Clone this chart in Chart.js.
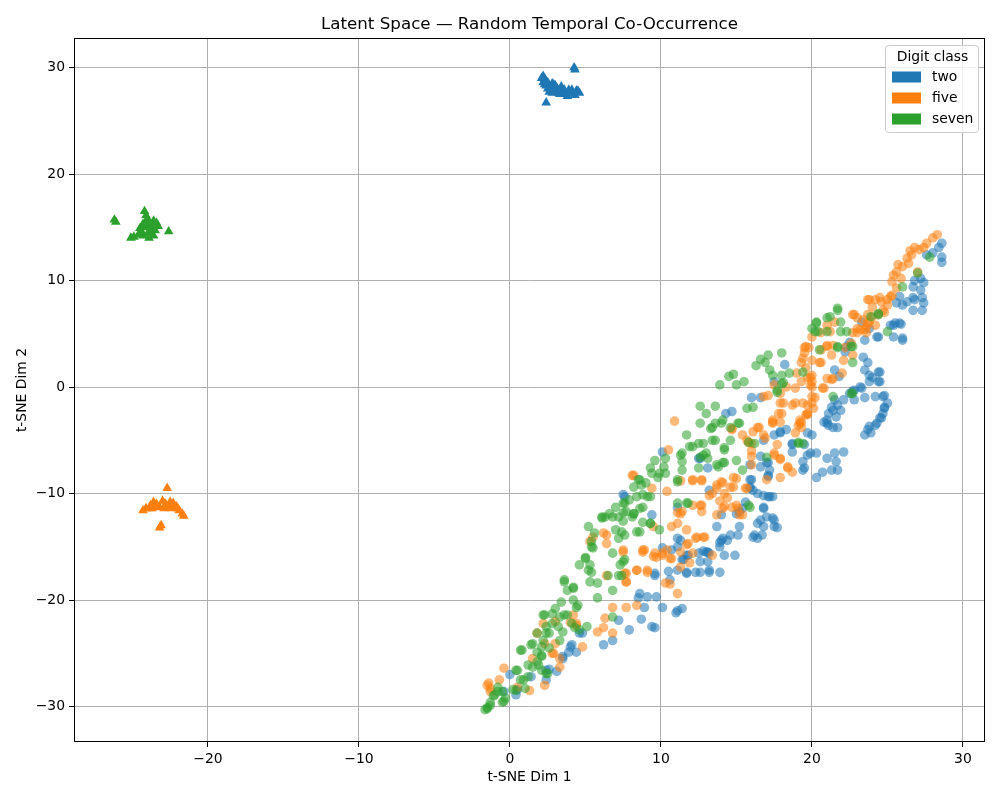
<!DOCTYPE html>
<html>
<head>
<meta charset="utf-8">
<script src="https://cdn.jsdelivr.net/npm/chart.js@4.4.1/dist/chart.umd.min.js"></script>
<style>
  body { margin: 0; background: #fff; }
  canvas { display: block; }
</style>
</head>
<body>
<canvas id="latentChart" width="1000" height="800"></canvas>
<script>
// class names and colours (matplotlib tab10)
const classNames = ["two", "five", "seven"];
const classColors = ["31, 119, 180", "255, 127, 14", "44, 160, 44"];

const xTicks = [-20, -10, 0, 10, 20, 30];
const yTicks = [-30, -20, -10, 0, 10, 20, 30];

// circles: temporal co-occurrence embedding
const twoLatent = [
  [0.0,-27.0],[0.4,-28.9],[0.5,-28.4],[-0.4,-28.6],[1.4,-27.2],[2.4,-27.5],[2.4,-26.6],[2.6,-26.5],[3.1,-26.7],[3.5,-25.3],
  [3.5,-25.5],[3.9,-24.9],[4.0,-24.4],[4.1,-24.2],[4.4,-24.9],[4.6,-23.1],[4.8,-23.1],[6.2,-24.2],[6.8,-23.8],[7.2,-21.9],
  [7.9,-22.8],[8.6,-19.4],[9.1,-19.7],[9.4,-22.5],[9.6,-22.6],[8.7,-21.8],[8.5,-19.8],[9.6,-17.7],[10.1,-15.1],[9.7,-19.7],
  [10.1,-20.7],[8.9,-20.7],[11.1,-21.0],[11.4,-20.8],[11.0,-21.2],[10.5,-17.3],[10.6,-18.1],[11.1,-17.2],[11.5,-16.2],[11.3,-14.4],
  [11.1,-15.0],[7.5,-10.1],[9.4,-12.0],[11.1,-11.3],[10.1,-6.1],[12.5,-6.7],[12.6,-6.7],[13.1,-7.6],[14.7,-2.3],[14.3,-2.5],
  [16.0,-1.0],[16.6,-1.0],[16.8,-5.0],[17.5,-4.5],[17.9,-4.3],[18.3,-4.0],[18.7,-5.4],[18.7,-6.1],[19.5,-5.4],[19.7,-6.4],
  [19.5,-7.6],[20.3,-8.5],[16.6,-6.5],[17.0,-7.1],[17.1,-7.1],[17.2,-7.8],[17.1,-8.4],[17.1,-8.3],[15.9,-8.7],[16.0,-8.7],
  [15.9,-7.3],[16.6,-7.5],[15.9,-9.5],[16.1,-9.7],[16.4,-10.0],[17.2,-10.3],[17.4,-10.3],[15.6,-10.8],[15.4,-11.4],[15.0,-11.9],
  [16.8,-11.3],[17.0,-12.2],[16.6,-12.5],[17.4,-12.3],[16.4,-12.8],[16.8,-13.1],[17.5,-13.1],[16.2,-13.9],[15.2,-13.1],[15.1,-13.9],
  [14.4,-14.4],[14.0,-14.4],[13.9,-14.6],[13.7,-13.1],[14.9,-15.8],[14.2,-15.8],[13.2,-15.6],[13.0,-15.5],[12.5,-15.6],[13.1,-16.4],
  [12.6,-16.4],[11.8,-15.8],[11.7,-15.8],[11.7,-17.4],[11.7,-17.5],[12.3,-17.4],[12.6,-17.4],[13.2,-17.4],[13.9,-17.4],[11.1,-14.2],
  [10.7,-15.3],[7.6,-10.3],[9.6,-17.5],[15.2,-11.7],[11.4,-16.2],[12.8,-15.4],[14.0,-12.0],[13.2,-9.7],[21.0,-3.4],[21.4,-3.8],
  [20.0,-4.5],[19.7,-4.3],[19.9,-6.2],[20.3,-6.2],[21.0,-6.7],[21.5,-6.2],[22.1,-6.1],[21.6,-7.0],[21.3,-7.8],[20.7,-8.0],
  [21.7,-7.8],[19.4,-7.0],[19.4,-7.8],[18.7,-5.3],[17.9,-4.2],[16.8,-10.2],[17.1,-10.3],[16.8,-11.4],[17.5,-12.5],[17.7,-13.2],
  [16.7,-13.9],[16.1,-14.1],[16.4,-14.2],[15.9,-9.4],[14.1,-14.2],[13.9,-15.0],[14.6,-13.9],[13.1,-15.5],[13.2,-17.2],[28.6,13.5],
  [28.4,13.1],[28.6,11.7],[28.6,12.2],[28.0,12.6],[27.6,12.4],[27.2,10.2],[26.8,10.0],[27.4,9.8],[26.7,9.4],[27.2,9.1],
  [26.7,8.4],[27.3,8.4],[27.4,7.9],[27.3,7.2],[25.8,8.5],[25.6,7.9],[26.0,7.7],[26.3,8.0],[26.8,8.2],[26.7,7.2],
  [25.5,6.0],[25.8,6.0],[25.9,5.9],[25.4,5.8],[25.2,5.8],[25.4,4.7],[26.0,4.6],[26.0,4.4],[24.3,4.7],[24.4,4.7],
  [23.5,4.4],[23.8,5.5],[23.3,6.1],[22.5,4.2],[22.3,3.8],[22.2,3.3],[21.5,1.6],[21.8,1.0],[23.4,2.8],[23.7,2.3],
  [23.5,1.6],[23.8,1.1],[24.0,0.9],[24.4,1.4],[24.5,1.4],[24.5,0.5],[24.4,0.5],[23.8,0.5],[23.2,0.0],[23.3,-0.1],
  [22.8,-0.3],[22.7,-0.4],[22.5,-0.6],[23.5,-1.0],[24.2,-0.9],[24.7,-0.9],[24.8,-0.8],[25.0,-1.5],[24.8,-1.9],[24.8,-2.0],
  [24.7,-2.5],[24.6,-2.9],[24.5,-2.9],[24.3,-3.4],[24.2,-3.6],[23.8,-3.7],[23.9,-4.3],[23.7,-4.0],[23.5,-4.5],[22.8,-1.2],
  [22.1,-1.2],[21.7,-1.7],[21.5,-1.2],[21.3,-1.9],[21.4,-2.2],[21.9,-2.2],[21.6,-2.8],[21.1,-2.5],[21.0,-3.1],[20.8,-3.3],
  [21.1,-3.6],[21.7,-3.8],[18.2,2.1],[17.5,0.5]
];
const fiveLatent = [
  [-1.4,-27.8],[-1.5,-28.0],[-1.3,-28.3],[-1.3,-28.6],[-0.4,-26.4],[-0.7,-27.5],[0.5,-28.2],[1.3,-28.5],[1.8,-23.1],[2.2,-22.2],
  [2.3,-24.1],[2.8,-25.0],[2.9,-25.0],[3.0,-24.1],[3.3,-25.5],[3.3,-26.3],[2.3,-28.0],[1.5,-25.5],[3.0,-22.0],[4.0,-22.1],
  [4.4,-22.4],[4.2,-21.4],[4.4,-22.2],[4.8,-24.4],[5.8,-23.0],[6.2,-22.6],[6.8,-23.1],[6.3,-21.7],[6.8,-20.7],[7.7,-20.7],
  [8.4,-20.5],[5.5,-14.1],[5.3,-14.5],[6.2,-13.7],[6.4,-14.7],[7.5,-15.5],[7.5,-15.3],[6.4,-17.7],[7.7,-18.3],[7.7,-17.5],
  [8.4,-17.2],[9.1,-17.2],[8.8,-15.5],[8.9,-15.3],[9.6,-15.6],[9.7,-16.0],[10.3,-18.4],[10.6,-18.5],[11.1,-19.4],[10.9,-3.2],
  [10.5,-5.9],[8.1,-8.3],[8.2,-8.3],[9.4,-9.5],[10.4,-9.8],[11.3,-8.8],[12.1,-8.8],[12.1,-8.7],[12.7,-8.7],[12.7,-8.8],
  [13.2,-10.2],[13.4,-10.0],[13.7,-9.5],[13.7,-9.2],[14.0,-8.9],[14.1,-9.0],[14.6,-9.4],[14.8,-9.4],[14.8,-8.5],[15.0,-8.6],
  [15.6,-9.5],[15.7,-9.5],[14.2,-10.0],[14.4,-10.4],[13.9,-10.7],[12.7,-11.1],[12.6,-11.1],[12.1,-11.1],[12.7,-11.7],[13.7,-12.0],
  [14.2,-11.2],[14.7,-11.3],[14.1,-11.4],[15.0,-11.1],[15.1,-11.4],[15.2,-12.0],[15.4,-12.0],[11.3,-11.9],[11.4,-11.7],[11.1,-11.8],
  [11.1,-12.8],[10.7,-13.1],[9.5,-13.1],[11.7,-13.4],[12.3,-14.2],[12.8,-14.1],[11.7,-14.8],[13.4,-15.8],[11.9,-16.5],[6.4,-13.9],
  [8.8,-15.3],[9.5,-15.9],[10.1,-15.8],[10.1,-15.6],[10.4,-15.3],[10.6,-16.1],[10.7,-16.1],[11.3,-15.5],[11.8,-14.7],[12.4,-14.1],
  [12.9,-14.1],[12.1,-15.6],[11.3,-16.9],[7.6,-17.5],[9.1,-17.4],[8.4,-17.2],[7.7,-18.3],[16.8,-0.9],[17.1,-0.8],[17.9,-1.5],
  [18.7,-1.7],[19.7,-1.7],[19.2,-3.4],[19.3,-3.3],[19.7,-2.5],[19.7,-2.6],[17.4,-3.3],[17.4,-3.4],[18.0,-2.5],[16.1,-4.2],
  [16.4,-3.8],[16.8,-4.5],[18.9,-4.3],[19.1,-3.6],[15.8,-5.2],[15.7,-5.0],[16.0,-5.3],[16.9,-4.8],[17.7,-5.4],[17.5,-6.2],
  [17.5,-6.4],[17.9,-6.7],[17.9,-6.8],[18.4,-7.6],[18.4,-7.5],[18.7,-8.0],[17.9,-8.5],[17.0,-8.7],[16.0,-6.5],[16.0,-6.0],
  [16.0,-7.3],[14.7,-3.9],[14.7,-4.0],[15.4,-4.5],[16.5,-3.8],[20.0,0.5],[28.3,14.3],[28.0,14.0],[27.6,13.5],[27.4,13.1],
  [27.1,12.9],[26.8,13.1],[26.5,12.8],[26.6,12.4],[26.3,12.1],[26.4,11.6],[26.0,11.3],[25.7,11.5],[25.6,10.8],[25.4,10.5],
  [25.9,10.2],[25.3,9.9],[27.0,10.8],[25.6,9.3],[25.3,8.6],[25.2,8.5],[25.0,8.2],[25.0,7.7],[24.6,8.0],[24.5,8.4],
  [24.2,8.2],[23.8,8.2],[23.7,8.2],[24.0,7.5],[24.7,7.2],[24.8,7.0],[24.4,6.8],[24.0,6.6],[23.7,6.8],[23.8,6.1],
  [23.7,6.0],[24.2,5.8],[23.6,5.6],[23.5,5.4],[23.4,6.3],[23.0,6.5],[23.0,5.5],[23.2,5.4],[23.6,5.1],[23.0,5.1],
  [22.7,5.1],[22.8,6.8],[22.7,6.8],[21.5,6.1],[21.0,5.8],[21.2,5.2],[20.6,5.1],[20.0,4.7],[19.8,3.7],[19.6,3.8],
  [19.5,3.7],[19.5,3.2],[20.6,3.5],[21.0,3.8],[21.0,3.9],[21.4,3.9],[21.3,3.0],[22.2,3.7],[22.6,4.1],[22.7,3.0],
  [22.1,2.5],[22.0,1.3],[21.4,0.8],[20.6,2.3],[20.5,2.3],[20.0,2.5],[19.4,2.7],[19.3,2.3],[19.6,1.8],[19.0,1.3],
  [20.0,1.1],[19.9,0.9],[19.7,0.9],[21.0,0.8],[21.3,0.7],[20.8,-0.1],[20.7,-0.1],[20.0,0.0],[19.9,0.2],[19.3,0.5],
  [18.9,-0.1],[18.3,0.0],[17.5,0.2],[17.9,-0.6],[18.1,-1.5],[18.9,-1.5],[19.4,-1.5],[20.0,-0.9],[20.0,-1.5],[20.2,-1.0],
  [20.1,-2.0],[19.6,-2.6],[19.2,-3.1],[19.3,-3.8],[17.4,-3.1],[17.9,-3.3],[17.8,-2.5]
];
const sevenLatent = [
  [-1.65,-30.3],[-1.5,-30.2],[-1.5,-30.1],[-1.3,-29.9],[-1.3,-29.6],[-1.1,-29.0],[-1.0,-28.9],[-0.8,-28.6],[-0.8,-28.2],[-0.5,-28.6],
  [-0.3,-29.2],[-0.5,-29.6],[-0.4,-29.5],[0.2,-28.4],[0.4,-28.5],[1.0,-28.3],[0.5,-26.6],[0.4,-26.6],[0.7,-27.5],[0.9,-27.5],
  [1.2,-27.2],[1.2,-26.1],[1.5,-26.3],[1.8,-25.8],[0.7,-24.7],[0.8,-24.7],[1.4,-24.2],[1.5,-24.1],[2.1,-25.2],[2.1,-25.3],
  [1.9,-26.1],[2.1,-26.6],[2.4,-26.9],[2.5,-26.9],[1.8,-24.9],[2.6,-24.5],[2.1,-24.4],[2.2,-23.8],[2.4,-23.1],[1.8,-23.1],
  [2.6,-23.1],[3.3,-23.8],[2.4,-22.5],[2.8,-22.2],[3.2,-22.5],[3.5,-23.0],[3.3,-21.6],[3.8,-21.4],[2.8,-21.3],[2.2,-21.4],
  [2.3,-21.4],[3.0,-20.8],[3.4,-20.2],[3.6,-21.4],[4.1,-22.2],[4.2,-20.0],[4.4,-20.7],[4.5,-20.5],[4.6,-22.8],[3.8,-19.1],
  [3.6,-18.3],[3.6,-18.1],[4.2,-18.8],[4.2,-18.9],[4.6,-16.7],[5.0,-16.1],[5.0,-16.0],[5.2,-17.2],[5.3,-16.7],[5.4,-17.4],
  [5.3,-18.3],[5.8,-18.4],[5.4,-15.0],[5.5,-15.1],[5.4,-14.5],[5.2,-13.1],[5.6,-13.7],[6.1,-12.2],[6.1,-12.3],[6.6,-11.9],
  [6.8,-12.2],[7.2,-12.2],[7.5,-11.8],[7.5,-10.9],[7.9,-10.6],[8.4,-10.3],[8.8,-10.1],[9.1,-10.3],[8.7,-9.2],[8.5,-8.7],
  [9.4,-8.1],[9.9,-8.1],[10.3,-8.1],[7.7,-11.7],[8.2,-11.9],[8.6,-11.4],[7.5,-12.6],[8.8,-12.7],[8.6,-13.6],[7.0,-13.4],
  [7.6,-13.9],[7.2,-14.2],[9.3,-12.8],[9.9,-13.4],[8.1,-12.2],[8.8,-11.3],[7.4,-13.6],[8.4,-13.6],[6.8,-15.6],[7.2,-17.7],
  [7.3,-16.7],[7.4,-17.7],[6.5,-17.7],[7.5,-16.4],[5.8,-19.8],[6.8,-19.1],[6.8,-21.6],[5.1,-22.5],[4.3,-22.6],[9.3,-12.8],
  [6.3,-12.2],[7.0,-11.3],[7.6,-10.9],[8.2,-11.9],[9.3,-10.3],[8.6,-8.7],[8.2,-9.4],[9.0,-9.0],[9.8,-8.5],[10.2,-7.5],
  [9.3,-7.6],[9.6,-6.9],[10.3,-6.7],[11.1,-8.9],[11.7,-10.9],[11.4,-7.8],[11.4,-7.0],[11.3,-6.4],[11.4,-6.2],[11.9,-5.6],
  [12.1,-5.6],[12.5,-5.3],[12.8,-5.3],[12.8,-6.4],[12.6,-6.6],[13.0,-6.2],[12.5,-7.6],[13.1,-6.7],[13.7,-7.3],[13.8,-7.5],
  [14.1,-7.1],[14.2,-7.1],[14.2,-5.9],[15.0,-6.9],[15.4,-7.8],[11.7,-4.5],[12.6,-3.4],[13.4,-3.8],[14.0,-3.4],[15.1,-3.4],
  [13.4,-5.0],[14.6,-5.0],[15.8,-5.2],[13.0,-2.5],[12.6,-1.8],[13.6,-1.8],[13.6,-3.4],[13.3,-3.9],[13.6,-5.0],[14.2,-5.7],
  [14.1,-3.1],[14.6,-3.8],[15.2,-3.4],[15.7,-2.0],[16.1,-1.9],[16.2,-5.3],[17.0,-6.6],[15.9,-11.3],[15.8,-11.1],[15.0,0.2],
  [13.9,0.2],[14.5,1.0],[14.8,1.2],[15.5,0.5],[16.3,2.0],[16.6,2.6],[17.7,-0.3],[18.1,0.4],[19.1,-5.2],[19.1,-5.3],
  [19.4,-5.3],[11.1,-10.9],[11.8,-10.9],[11.1,-8.7],[7.6,-16.2],[16.9,2.3],[17.1,3.0],[18.0,3.2],[17.2,1.6],[17.4,1.1],
  [18.0,1.1],[18.5,1.3],[18.0,0.3],[17.7,-0.5],[19.4,1.4],[20.0,5.5],[20.3,6.0],[20.3,6.1],[20.2,5.2],[21.0,6.5],
  [21.2,6.6],[21.7,7.2],[21.7,7.4],[20.4,5.2],[21.0,5.2],[21.9,5.2],[21.9,6.1],[22.3,5.2],[20.5,3.5],[21.7,3.7],
  [21.7,3.8],[22.6,3.8],[22.7,3.8],[22.7,2.3],[22.7,-0.6],[22.6,-0.6],[21.4,-0.9],[23.9,6.6],[24.4,6.8],[24.4,6.9],
  [25.0,5.2],[26.0,9.4],[27.0,10.7],[27.8,12.2]
];

// triangles: the three isolated anchor clusters
const twoAnchor = [
  [2.1,29.0],[2.2,29.2],[2.3,28.9],[2.35,28.8],[2.2,28.6],[2.3,28.4],[2.4,28.3],[2.5,28.6],[2.5,28.0],[2.6,28.1],
  [2.6,27.7],[2.7,27.9],[2.8,28.5],[2.8,27.6],[2.9,27.9],[2.9,28.4],[3.0,27.8],[3.0,28.3],[3.1,28.1],[3.2,27.6],
  [3.3,27.5],[3.3,27.9],[3.4,28.2],[3.5,27.7],[3.6,27.9],[3.7,27.5],[3.8,27.3],[3.9,27.9],[4.0,27.6],[4.1,27.9],
  [4.2,27.6],[4.3,27.4],[4.4,27.8],[4.5,27.8],[4.6,27.6],[4.25,30.0],[4.3,29.8],[2.4,26.7]
];
const fiveAnchor = [
  [-22.7,-9.5],[-24.3,-11.6],[-24.1,-11.4],[-23.9,-11.4],[-23.8,-11.1],[-23.6,-10.8],[-23.5,-11.2],[-23.4,-11.0],[-23.2,-11.3],[-23.0,-10.7],
  [-22.8,-11.0],[-22.6,-11.3],[-22.5,-10.8],[-22.3,-10.9],[-22.1,-11.2],[-22.0,-11.4],[-21.9,-11.6],[-21.7,-11.9],[-21.6,-12.1],[-23.2,-13.2],
  [-23.1,-13.0],[-23.7,-11.4],[-22.9,-11.4],[-22.4,-11.4]
];
const sevenAnchor = [
  [-26.2,15.7],[-26.1,15.5],[-24.2,16.5],[-24.1,16.1],[-24.1,15.5],[-24.0,15.8],[-23.6,15.6],[-23.4,15.4],[-23.3,15.1],[-23.9,15.2],
  [-24.2,15.0],[-24.4,14.6],[-24.6,14.3],[-24.9,14.1],[-25.1,14.0],[-24.3,14.2],[-23.8,14.5],[-23.5,14.7],[-24.0,14.4],[-23.7,15.0],
  [-23.9,14.0],[-22.6,14.6],[-24.3,15.3],[-24.5,14.9],[-23.6,14.2]
];

const FONT = "'DejaVu Sans', sans-serif";
const toXY = (pts) => pts.map(p => ({ x: p[0], y: p[1] }));
const minus = (v) => String(v).replace("-", "\u2212");

const latentSets = [twoLatent, fiveLatent, sevenLatent];
const anchorSets = [twoAnchor, fiveAnchor, sevenAnchor];

const datasets = [];
latentSets.forEach((pts, i) => {
    datasets.push({
        label: classNames[i],
        data: toXY(pts),
        pointStyle: "circle",
        pointRadius: 4.8,
        pointBorderWidth: 0,
        backgroundColor: `rgba(${classColors[i]}, 0.55)`,
        order: 10 - i,
    });
});
anchorSets.forEach((pts, i) => {
    datasets.push({
        label: classNames[i] + " anchor",
        data: toXY(pts),
        pointStyle: "triangle",
        pointRadius: 5.6,
        pointBorderWidth: 0,
        backgroundColor: `rgb(${classColors[i]})`,
        order: 5 - i,
    });
});

// title, axis labels, frame and legend box drawn by hand (matplotlib look)
const decorations = {
    id: "decorations",
    afterDraw(chart) {
        const { ctx, chartArea: a } = chart;
        ctx.save();
        ctx.strokeStyle = "#000";
        ctx.lineWidth = 1;
        ctx.strokeRect(a.left + 0.5, a.top + 0.5, a.right - a.left - 1, a.bottom - a.top - 1);

        ctx.fillStyle = "#000";
        ctx.textAlign = "center";
        ctx.textBaseline = "alphabetic";
        ctx.font = `16.7px ${FONT}`;
        ctx.fillText("Latent Space \u2014 Random Temporal Co-Occurrence", (a.left + a.right) / 2, 29);

        ctx.font = `13.9px ${FONT}`;
        ctx.textBaseline = "middle";
        ctx.fillText("t-SNE Dim 1", (a.left + a.right) / 2, 777);
        ctx.save();
        ctx.translate(22, (a.top + a.bottom) / 2);
        ctx.rotate(-Math.PI / 2);
        ctx.fillText("t-SNE Dim 2", 0, 0);
        ctx.restore();

        // legend
        const lx = 885, ly = 45, lw = 93, lh = 87;
        ctx.beginPath();
        ctx.roundRect(lx + 0.5, ly + 0.5, lw, lh, 3);
        ctx.fillStyle = "rgba(255,255,255,0.8)";
        ctx.fill();
        ctx.strokeStyle = "#cccccc";
        ctx.stroke();
        ctx.fillStyle = "#000";
        ctx.textAlign = "center";
        ctx.fillText("Digit class", lx + lw / 2 + 1, 57);
        classNames.forEach((name, i) => {
            const cy = 77 + i * 21;
            ctx.fillStyle = `rgb(${classColors[i]})`;
            ctx.fillRect(892, cy - 5.5, 29, 11);
            ctx.fillStyle = "#000";
            ctx.textAlign = "left";
            ctx.fillText(name, 932, cy);
        });
        ctx.restore();
    },
};

const ctx = document.getElementById("latentChart").getContext("2d");
const latentChart = new Chart(ctx, {
    type: "scatter",
    data: { datasets: datasets },
    options: {
        responsive: false,
        animation: false,
        devicePixelRatio: 1,
        layout: {
            padding: { top: 38, right: 15, left: 0, bottom: 0 },
        },
        plugins: {
            legend: { display: false },
            tooltip: { enabled: false },
            title: { display: false },
        },
        scales: {
            x: {
                type: "linear",
                min: -28.87,
                max: 31.46,
                z: 1,
                afterFit: (scale) => { scale.height = 58; },
                afterBuildTicks: (scale) => { scale.ticks = xTicks.map(v => ({ value: v })); },
                grid: { color: "#b0b0b0", lineWidth: 1, tickColor: "#000", tickLength: 5 },
                border: { display: false },
                ticks: {
                    color: "#000",
                    padding: 4,
                    maxRotation: 0,
                    font: { family: FONT, size: 13.9 },
                    callback: (v) => minus(v),
                },
            },
            y: {
                type: "linear",
                min: -33.33,
                max: 32.77,
                z: 1,
                afterFit: (scale) => { scale.width = 74; },
                afterBuildTicks: (scale) => { scale.ticks = yTicks.map(v => ({ value: v })); },
                grid: { color: "#b0b0b0", lineWidth: 1, tickColor: "#000", tickLength: 5 },
                border: { display: false },
                ticks: {
                    color: "#000",
                    padding: 4,
                    font: { family: FONT, size: 13.9 },
                    callback: (v) => minus(v),
                },
            },
        },
    },
    plugins: [decorations],
});
</script>
</body>
</html>
